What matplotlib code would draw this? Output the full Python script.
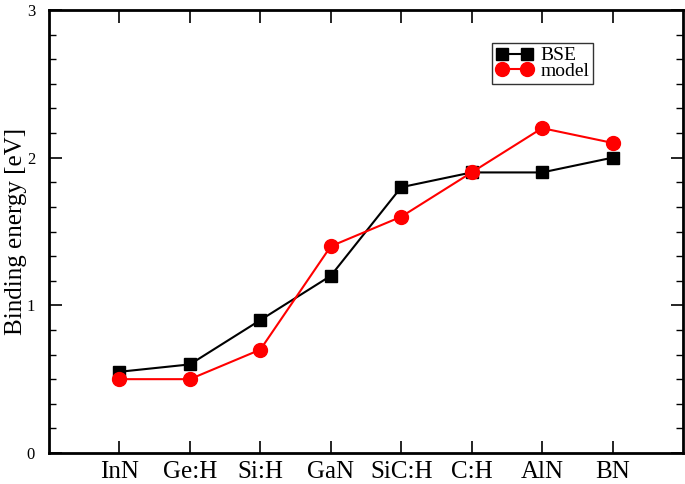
import matplotlib
matplotlib.use("Agg")
import matplotlib.pyplot as plt
from matplotlib.ticker import MultipleLocator

categories = ["InN", "Ge:H", "Si:H", "GaN", "SiC:H", "C:H", "AlN", "BN"]
bse = [0.55, 0.6, 0.9, 1.2, 1.8, 1.9, 1.9, 2.0]
model = [0.5, 0.5, 0.7, 1.4, 1.6, 1.9, 2.2, 2.1]

plt.rcParams['font.family'] = ['Liberation Serif', 'DejaVu Serif']

fig = plt.figure(figsize=(6.85, 4.84), dpi=100)
ax = fig.add_axes([49/685, 31/484, 634/685, 443/484])

x = list(range(1, len(categories) + 1))
ax.plot(x, bse, color='black', lw=1.5, marker='s', ms=8.5, label='BSE', zorder=3)
ax.plot(x, model, color='red', lw=1.5, marker='o', ms=10, label='model', zorder=4)

ax.set_xlim(0, 9)
ax.set_ylim(0, 3)
ax.set_xticks(x)
ax.set_xticklabels(categories, fontsize=18)
ax.set_yticks([0, 1, 2, 3])
ax.set_yticklabels(["0", "1", "2", "3"], fontsize=12)
ax.yaxis.set_minor_locator(MultipleLocator(1/6))
ax.tick_params(which='major', direction='in', length=9, width=1.2, top=True, right=True, pad=4)
ax.tick_params(which='minor', direction='in', length=5, width=1.0, top=False, right=True)
ax.tick_params(axis='x', pad=6)
ax.tick_params(axis='y', pad=10)
for s in ax.spines.values():
    s.set_linewidth(2)
ax.set_ylabel("Binding energy [eV]", fontsize=18, labelpad=0)

leg = ax.legend(loc='upper left', fontsize=14, numpoints=2,
                frameon=True, fancybox=False, edgecolor='black', handlelength=1.9,
                borderpad=0.2, labelspacing=-0.1, handletextpad=0.4, borderaxespad=0)
leg.set_bbox_to_anchor(((492-49)/634, (453-43)/443), transform=ax.transAxes)
leg.get_frame().set_linewidth(1.0)

fig.savefig("out.png", dpi=100)
